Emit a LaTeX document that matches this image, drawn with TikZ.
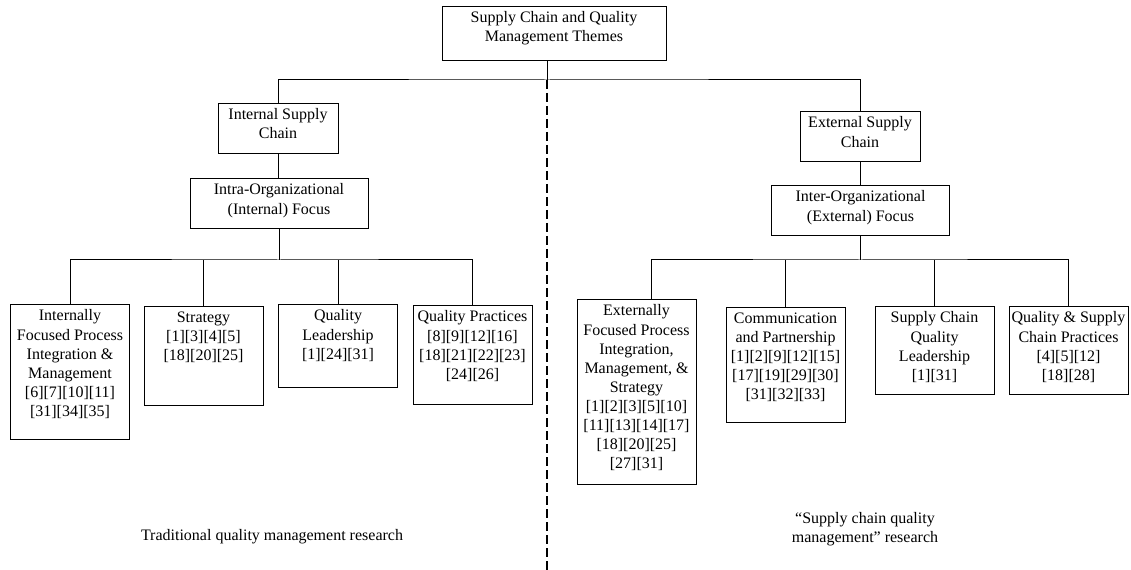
\documentclass[tikz,border=0pt]{standalone}
\usepackage{fontspec}
\setmainfont{Liberation Serif}
\usetikzlibrary{calc}

% text of a theme box: width, height, lines
\newcommand{\themetext}[3]{\parbox[t][#2][t]{#1}{\centering\vspace*{4pt}#3}}

\begin{document}
\begin{tikzpicture}[x=0.75pt,y=-0.75pt,
         font=\fontsize{12}{14.3}\selectfont,
         theme/.style = {draw,line width=0.75pt,anchor=north,inner sep=0pt},
         link/.style = {line width=0.75pt},
         divider/.style = {line width=0.9pt,dash pattern=on 6.75pt off 3pt},
         note/.style = {inner sep=0pt,align=center}
]
   \useasboundingbox (0,0) rectangle (1131,570);

   % root and the two branches
   \node[theme] (root)  at (554,6)   {\themetext{168pt}{40.5pt}{Supply Chain and Quality\\Management Themes}};
   \node[theme] (isc)   at (278,103) {\themetext{90pt}{37.5pt}{Internal Supply\\Chain}};
   \node[theme] (intra) at (279,178) {\themetext{133.5pt}{37.5pt}{Intra-Organizational\\(Internal) Focus}};
   \node[theme] (esc)   at (860,111) {\themetext{90pt}{37.5pt}{External Supply\\Chain}};
   \node[theme] (inter) at (860.5,185) {\themetext{134pt}{37.5pt}{Inter-Organizational\\(External) Focus}};

   % internal themes
   \node[theme] (ipi)   at (70,304)    {\themetext{89.25pt}{101pt}{Internally\\Focused Process\\Integration \&\\Management\\{[6][7][10][11]}\\{[31][34][35]}}};
   \node[theme] (strat) at (203.5,306) {\themetext{89.25pt}{74.25pt}{Strategy\\{[1][3][4][5]}\\{[18][20][25]}}};
   \node[theme] (qlead) at (338,304)   {\themetext{89.25pt}{62.25pt}{Quality\\Leadership\\{[1][24][31]}}};
   \node[theme] (qprac) at (472.5,305) {\themetext{89.25pt}{74.25pt}{Quality Practices\\{[8][9][12][16]}\\{[18][21][22][23]}\\{[24][26]}}};

   % external themes
   \node[theme] (epi)    at (636.5,299)  {\themetext{89.25pt}{138.75pt}{Externally\\Focused Process\\Integration,\\Management, \&\\Strategy\\{[1][2][3][5][10]}\\{[11][13][14][17]}\\{[18][20][25]}\\{[27][31]}}};
   \node[theme] (comm)   at (785.5,307)  {\themetext{89.25pt}{86.25pt}{Communication\\and Partnership\\{[1][2][9][12][15]}\\{[17][19][29][30]}\\{[31][32][33]}}};
   \node[theme] (sclead) at (934.5,306)  {\themetext{89.25pt}{66pt}{Supply Chain\\Quality\\Leadership\\{[1][31]}}};
   \node[theme] (qscp)   at (1068.5,306) {\themetext{89.25pt}{66pt}{Quality \& Supply\\Chain Practices\\{[4][5][12]}\\{[18][28]}}};

   \coordinate (split) at (547,80);
   \coordinate (lbar)  at (279,260);
   \coordinate (rbar)  at (860.5,260);
   \coordinate (divbot) at (547,570);

   \draw[link] (root.south -| split) -- (split);
   \draw[link] (isc.north) |- (split) -| (esc.north);
   \draw[link] (isc.south) -- (isc.south |- intra.north);
   \draw[link] (esc.south) -- (esc.south |- inter.north);

   \draw[link] (intra.south -| lbar) -- (lbar);
   \draw[link] (ipi.north) |- (lbar) -| (qprac.north);
   \draw[link] (strat.north) -- (strat.north |- lbar);
   \draw[link] (qlead.north) -- (qlead.north |- lbar);

   \draw[link] (inter.south -| rbar) -- (rbar);
   \draw[link] ([xshift=11pt]epi.north) |- (rbar) -| (qscp.north);
   \draw[link] (comm.north) -- (comm.north |- rbar);
   \draw[link] (sclead.north) -- (sclead.north |- rbar);

   \draw[divider] (split) -- (divbot);

   \node[note] (tradlbl) at (272,537) {Traditional quality management research};
   \node[note] (scqmlbl) at (865,529) {“Supply chain quality\\management” research};
\end{tikzpicture}
\end{document}
